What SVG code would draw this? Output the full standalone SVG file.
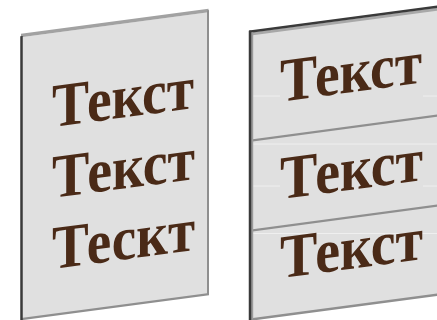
<svg xmlns="http://www.w3.org/2000/svg" width="437" height="320" viewBox="0 0 437 320">
  <style>
    .face { fill: #e0e0e0; }
    .txt { font-family: "Liberation Serif", "DejaVu Serif", serif; font-weight: bold; font-size: 56px; fill: #4a2a17; }
    .dark { stroke: #3a3a3a; fill: none; }
    .grey { stroke: #8f8f8f; fill: none; }
    .faint { stroke: #efefef; stroke-width: 1; fill: none; }
  </style>
  <rect width="437" height="320" fill="#ffffff"/>
  <g transform="skewY(-7.6)">
    <g id="panel-left">
      <rect class="face" x="21" y="40" width="187" height="282"/>
      <rect x="21" y="36.5" width="187.5" height="3.5" fill="#a2a2a2"/>
      <line class="grey" x1="208" y1="38" x2="208" y2="322" stroke-width="2"/>
      <line class="grey" x1="21" y1="322" x2="209" y2="322" stroke-width="2.2"/>
      <line class="dark" x1="21.5" y1="39" x2="21.5" y2="323" stroke-width="2.5"/>
      <text class="txt" transform="translate(52,134) scale(1,1.107)" textLength="142" lengthAdjust="spacingAndGlyphs">Текст</text>
      <text class="txt" transform="translate(52,205) scale(1,1.107)" textLength="143" lengthAdjust="spacingAndGlyphs">Текст</text>
      <text class="txt" transform="translate(52,276) scale(1,1.107)" textLength="143" lengthAdjust="spacingAndGlyphs">Тескт</text>
    </g>
  </g>
  <g id="panel-right">
    <g transform="skewY(-7.6)">
      <rect class="face" x="249" y="66" width="188" height="287"/>
    </g>
    <line class="faint" x1="251" y1="96" x2="280" y2="96"/>
    <line class="faint" x1="423" y1="96" x2="437" y2="96"/>
    <line class="faint" x1="251" y1="144" x2="437" y2="144"/>
    <line class="faint" x1="251" y1="186" x2="280" y2="186"/>
    <line class="faint" x1="423" y1="186" x2="437" y2="186"/>
    <line class="faint" x1="251" y1="233.5" x2="437" y2="233.5"/>
    <g transform="skewY(-7.6)">
      <rect x="249" y="66" width="188" height="3" fill="#a8a8a8"/>
      <line class="dark" x1="249" y1="65" x2="437" y2="65" stroke-width="2.5"/>
      <line class="grey" x1="249" y1="174" x2="437" y2="174" stroke-width="2.2"/>
      <line class="grey" x1="249" y1="264" x2="437" y2="264" stroke-width="2.2"/>
      <line class="grey" x1="249" y1="353" x2="437" y2="353" stroke-width="2.5"/>
      <rect x="251" y="66" width="2.2" height="287" fill="#9a9a9a"/>
      <line class="dark" x1="250" y1="64" x2="250" y2="354" stroke-width="2.5"/>
      <text class="txt" transform="translate(280,139) scale(1,1.107)" textLength="142" lengthAdjust="spacingAndGlyphs">Текст</text>
      <text class="txt" transform="translate(280,236.5) scale(1,1.107)" textLength="143" lengthAdjust="spacingAndGlyphs">Текст</text>
      <text class="txt" transform="translate(280,315.5) scale(1,1.107)" textLength="143" lengthAdjust="spacingAndGlyphs">Текст</text>
    </g>
  </g>
</svg>
